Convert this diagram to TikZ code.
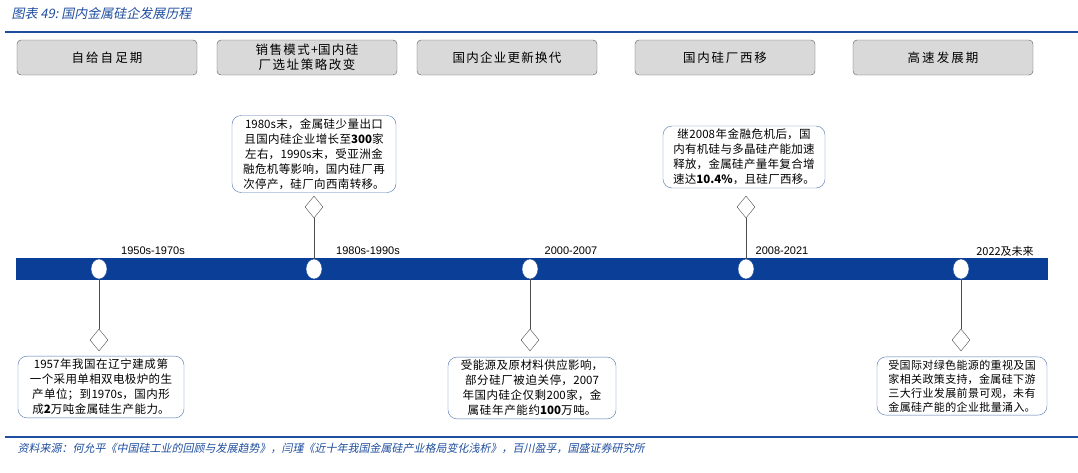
\documentclass[tikz,border=0pt]{standalone}
\usepackage{fontspec}
\setmainfont{Liberation Sans}
\newfontfamily\cjk{Noto Sans CJK SC}
\newfontfamily\cjki[FakeSlant=0.2]{Noto Sans CJK SC}
\XeTeXlinebreaklocale "zh"
\XeTeXlinebreakskip=0pt plus 1pt
\usetikzlibrary{shapes.geometric}
\definecolor{bar}{HTML}{0B3F97}
\definecolor{ttl}{HTML}{1F4E9E}
\tikzset{x=1pt,y=-1pt,
 phase/.style={draw=gray!70!black,fill=gray!30,rounded corners=4pt,minimum width=180pt,minimum height=35pt,align=center,font=\cjk\fontsize{12.5}{15}\selectfont,text width=172pt,inner sep=1pt},
 note/.style={draw=ttl!80,rounded corners=9pt,align=center,font=\cjk\fontsize{11.5}{15}\selectfont,inner sep=3pt},
 dot/.style={ellipse,draw=bar,fill=white,minimum width=16pt,minimum height=20pt,inner sep=0pt},
 dia/.style={diamond,draw=gray!60!black,fill=white,minimum width=18pt,minimum height=22pt,inner sep=0pt},
 yr/.style={font=\fontsize{11}{13}\selectfont},
 conn/.style={draw=gray!60!black}}
\begin{document}
\begin{tikzpicture}
\useasboundingbox (0,0) rectangle (1078,472);
\node[anchor=west,text=ttl,font=\cjki\fontsize{13}{15}\selectfont] (title) at (8,14) {图表 49:\ 国内金属硅企发展历程};
\draw[ttl,line width=2pt] (5,32) -- (1078,32);
\node[phase] (p1) at (107,57.5) {自给自足期};
\node[phase] (p2) at (307,57.5) {销售模式+国内硅厂选址策略改变};
\node[phase] (p3) at (507,57.5) {国内企业更新换代};
\node[phase] (p4) at (725,57.5) {国内硅厂西移};
\node[phase] (p5) at (943,57.5) {高速发展期};
\fill[bar] (16,258) rectangle (1048,280);
\foreach \n/\x in {c1/99,c2/314,c3/530,c4/746,c5/961}{\node[dot] (\n) at (\x,269) {};}
\node[yr] (y1) at (153,251) {1950s-1970s};
\node[yr] (y2) at (368,251) {1980s-1990s};
\node[yr] (y3) at (571,251) {2000-2007};
\node[yr] (y4) at (782,251) {2008-2021};
\node[yr] (y5) at (1005,251) {\cjk 2022及未来};
% up
\node[dia] (d2) at (314,207) {};
\node[dia] (d4) at (746,207) {};
\draw[conn] (c2) -- (d2); \draw[conn] (c4) -- (d4);
\node[note,text width=158pt] (n2) at (314,154) {1980s末，金属硅少量出口且国内硅企业增长至\textbf{300}家左右，1990s末，受亚洲金融危机等影响，国内硅厂再次停产，硅厂向西南转移。};
\node[note,text width=156pt] (n4) at (744,157) {继2008年金融危机后，国内有机硅与多晶硅产能加速释放，金属硅产量年复合增速达\textbf{10.4\%}，且硅厂西移。};
% down
\node[dia] (d1) at (99,340) {};
\node[dia] (d3) at (530,340) {};
\node[dia] (d5) at (961,340) {};
\draw[conn] (c1) -- (d1); \draw[conn] (c3) -- (d3); \draw[conn] (c5) -- (d5);
\node[note,text width=160pt] (n1) at (101,387) {1957年我国在辽宁建成第一个采用单相双电极炉的生产单位；到1970s，国内形成\textbf{2}万吨金属硅生产能力。};
\node[note,text width=162pt] (n3) at (532,388) {受能源及原材料供应影响，部分硅厂被迫关停，2007年国内硅企仅剩200家，金属硅年产能约\textbf{100}万吨。};
\node[note,text width=164pt,font=\cjk\fontsize{11}{14}\selectfont] (n5) at (962,386) {受国际对绿色能源的重视及国家相关政策支持，金属硅下游三大行业发展前景可观，未有金属硅产能的企业批量涌入。};
\draw[ttl,line width=2pt] (5,437) -- (1078,437);
\node[anchor=west,text=ttl,font=\cjki\fontsize{11}{13}\selectfont] (src) at (14,448) {资料来源：何允平《中国硅工业的回顾与发展趋势》，闫瑾《近十年我国金属硅产业格局变化浅析》，百川盈孚，国盛证券研究所};
\end{tikzpicture}
\end{document}
